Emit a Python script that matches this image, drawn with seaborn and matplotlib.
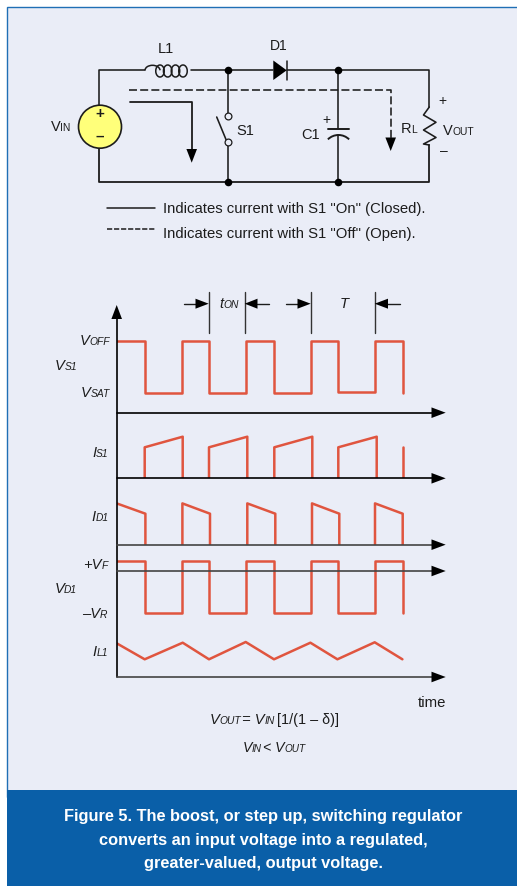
import matplotlib
matplotlib.use("Agg")
import matplotlib.pyplot as plt
from matplotlib.patches import Arc, Circle, Polygon, Rectangle
import pandas as pd
import seaborn as sns

# waveforms: time from the y axis, level above each baseline
vs1_t = [0, 28, 28, 65, 65, 92.3, 92.3, 129.3, 129.3, 157, 157, 194, 194, 221, 221, 258.3, 258.3, 286, 286]
vs1_v = [71.7, 71.7, 20, 20, 71.7, 71.7, 20, 20, 71.7, 71.7, 20, 20, 72, 72, 21, 21, 72, 72, 20]

is1_t = [28, 28, 66, 66, 92.3, 92.3, 130.6, 130.6, 157.6, 157.6, 195.6, 195.6, 221.6, 221.6, 260, 260, 286, 286]
is1_v = [0, 31, 41.6, 0, 0, 31, 41.6, 0, 0, 31, 41.6, 0, 0, 31, 41.6, 0, 0, 31]
is1_p = [1, 1, 1, 1, 2, 2, 2, 2, 3, 3, 3, 3, 4, 4, 4, 4, 5, 5]

id1_t = [0, 28.7, 28.7, 65.7, 65.7, 93.3, 93.3, 130.6, 130.6, 158.6, 158.6, 195.3, 195.3, 222.6, 222.6, 258.3, 258.3, 286, 286]
id1_v = [41.3, 31, 0, 0, 41.3, 31, 0, 0, 41.3, 31, 0, 0, 41.3, 31, 0, 0, 41.3, 31, 0]
id1_p = [1, 1, 1, 2, 2, 2, 2, 3, 3, 3, 3, 4, 4, 4, 4, 5, 5, 5, 5]

vd1_t = [0, 28.3, 28.3, 65, 65, 92.3, 92.3, 129.3, 129.3, 157, 157, 194, 194, 221, 221, 258.3, 258.3, 286, 286]
vd1_v = [9.7, 9.7, -41.7, -41.7, 9.7, 9.7, -41.7, -41.7, 9.7, 9.7, -41.7, -41.7, 10, 10, -41.7, -41.7, 10, 10, -41.7]

il1_t = [0, 28, 66, 92.3, 129, 157.3, 193.7, 220.7, 258, 285.7]
il1_v = [33.7, 17.7, 34.3, 17.7, 35, 17.7, 34.3, 17.7, 34.7, 17.7]

caption = ["Figure 5. The boost, or step up, switching regulator",
           "converts an input voltage into a regulated,",
           "greater-valued, output voltage."]
legend_labels = ['Indicates current with S1 "On" (Closed).',
                 'Indicates current with S1 "Off" (Open).']

W, H = 517, 886
RED = "#E0553F"
INK = "#1c1c1c"
PANEL = "#EAEDF7"
BLUE = "#0A5FA8"

sns.set_theme(style="white")
plt.rcParams["font.family"] = ["Liberation Sans", "DejaVu Sans"]

fig = plt.figure(figsize=(W / 100, H / 100), dpi=100, facecolor="white")

# background layer in picture pixels
bg = fig.add_axes([0, 0, 1, 1])
bg.set_xlim(0, W)
bg.set_ylim(H, 0)
bg.axis("off")
bg.add_patch(Rectangle((7, 6.5), 520, 790, fc=PANEL, ec="#1f6fb5", lw=1.0))
bg.add_patch(Rectangle((7, 790), 520, 100, fc=BLUE, ec="none"))


def panel(top, bottom, lo, hi):
    # one waveform strip, x runs from the y axis to the arrow tips
    ax = fig.add_axes([116.7 / W, 1 - bottom / H, 329 / W, (bottom - top) / H])
    ax.set_xlim(0, 329)
    ax.set_ylim(lo, hi)
    ax.autoscale(False)
    ax.axis("off")
    ax.patch.set_alpha(0)
    return ax


def trace(ax, t, v, units=None):
    df = pd.DataFrame({"t": t, "v": v, "p": units if units else [1] * len(t)})
    sns.lineplot(data=df, x="t", y="v", units="p", estimator=None, sort=False,
                 color=RED, lw=1.8, legend=False, ax=ax)
    ax.axis("off")


trace(panel(305, 412.7, 0, 107.7), vs1_t, vs1_v)
trace(panel(412.7, 478.3, 0, 65.6), is1_t, is1_v, is1_p)
trace(panel(478.3, 544.7, 0, 66.4), id1_t, id1_v, id1_p)
trace(panel(544.7, 625, -54, 26.3), vd1_t, vd1_v)
trace(panel(625, 677, 0, 52), il1_t, il1_v)

# diagram layer, also picture pixels
ax = fig.add_axes([0, 0, 1, 1])
ax.patch.set_alpha(0)
ax.set_xlim(0, W)
ax.set_ylim(H, 0)
ax.autoscale(False)
ax.axis("off")


def wire(xs, ys, lw=1.15, color=INK, **kw):
    sns.lineplot(x=xs, y=ys, sort=False, estimator=None, errorbar=None,
                 color=color, lw=lw, legend=False, ax=ax, **kw)


def head(tip, back, half=5.3):
    # filled arrow head from the back centre to the tip
    (x0, y0), (x1, y1) = back, tip
    if x0 == x1:
        pts = [(x1, y1), (x0 - half, y0), (x0 + half, y0)]
    else:
        pts = [(x1, y1), (x0, y0 - half), (x0, y0 + half)]
    ax.add_patch(Polygon(pts, fc="black", ec="none", zorder=5))


def sub(x, y, big, small, size=10.6, small_size=7.4, color=INK, style="italic"):
    # letter plus small subscript on the same baseline, as in the figure
    t = ax.text(x, y, big, fontsize=size, style=style, color=color, va="baseline", ha="left")
    r = fig.canvas.get_renderer()
    end = ax.transData.inverted().transform(t.get_window_extent(r).get_points())[1][0]
    s = ax.text(end - 0.3, y, small, fontsize=small_size, style=style, color=color, va="baseline", ha="left")
    end = ax.transData.inverted().transform(s.get_window_extent(r).get_points())[1][0]
    return end


# circuit wires
wire([99.3, 99.3, 145], [105, 70.3, 70.3])
wire([190.5, 273], [70.3, 70.3])
wire([287, 429.3, 429.3], [70.3, 70.3, 107])
wire([99.3, 99.3, 429.3, 429.3], [148, 181.7, 181.7, 145], lw=1.3)
wire([228, 228], [70.3, 112.5])
wire([228, 228], [145.5, 181.7])
wire([216.7, 226], [117, 139.5])
wire([338.3, 338.3], [70.3, 129.3])
wire([338.3, 338.3], [135, 181.7])
wire([328, 349], [129.3, 129.3], lw=1.4)
ax.add_patch(Arc((338.5, 150), 30, 30, theta1=225, theta2=315, color=INK, lw=1.4))

# load resistor
wire([429.3, 423.5, 436, 423.5, 436, 423.5, 429.3],
     [107, 115, 122.3, 130, 137.5, 144, 145])

# inductor
ax.add_patch(Arc((152.5, 70.3), 15, 10, theta1=180, theta2=360, color=INK, lw=1.1))
for cx in [160, 167.7, 175.5, 183]:
    ax.add_patch(Arc((cx, 71), 8.5, 12, color=INK, lw=1.1))

# source
ax.add_patch(Circle((100, 126.7), 21.5, fc="#FFFF7A", ec=INK, lw=1.2, zorder=3))
ax.text(100, 114, "+", fontsize=11, weight="bold", ha="center", va="center", color=INK, zorder=4)
ax.text(100, 137, "\u2013", fontsize=11, weight="bold", ha="center", va="center", color=INK, zorder=4)

# diode
ax.add_patch(Polygon([(273.3, 60.5), (286.7, 70.3), (273.3, 80)], fc="black", ec="none"))
wire([287, 287], [60.5, 80], lw=1.1)

# junction dots and switch contacts
sns.scatterplot(x=[228, 338.3, 228, 338.3], y=[70.3, 70.3, 181.7, 181.7], s=30, color="black",
                linewidth=0, legend=False, ax=ax, zorder=4)
sns.scatterplot(x=[228, 228], y=[116, 142], s=24, color=PANEL, edgecolor=INK,
                linewidth=0.9, legend=False, ax=ax, zorder=4)

# current paths
wire([130, 191.7, 191.7], [101.7, 101.7, 150], lw=1.3)
head((191.7, 162.7), (191.7, 149))
wire([129, 390.7, 390.7], [90.3, 90.3, 140], lw=1.15, linestyle=(0, (5, 2)))
head((390.7, 151), (390.7, 137.5))

# legend
wire([107, 155], [207.7, 207.7], lw=1.1)
wire([107, 155], [228.7, 228.7], lw=1.1, linestyle=(0, (3.4, 1.2)))
ax.text(163, 212.5, legend_labels[0], fontsize=10.7, color=INK, va="baseline")
ax.text(163, 237.5, legend_labels[1], fontsize=10.7, color=INK, va="baseline")

# circuit labels
ax.text(166, 53, "L1", fontsize=10.5, color=INK, ha="center", va="baseline")
ax.text(278.7, 50, "D1", fontsize=10, color=INK, ha="center", va="baseline")
sub(51, 130.7, "V", "IN", size=10.5, small_size=7.4, style="normal")
ax.text(236.7, 135, "S1", fontsize=10.5, color=INK, va="baseline")
ax.text(301.5, 139, "C1", fontsize=10.5, color=INK, va="baseline")
ax.text(326.7, 120, "+", fontsize=10, color=INK, ha="center", va="center")
sub(401, 132.7, "R", "L", size=10.5, small_size=7.4, style="normal")
sub(443, 135, "V", "OUT", size=10.5, small_size=7.4, style="normal")
ax.text(442.7, 101, "+", fontsize=10, color=INK, ha="center", va="center")
ax.text(444, 151.5, "\u2013", fontsize=10, color=INK, ha="center", va="center")

# waveform axes
wire([116.7, 116.7], [316, 677], lw=1.2, color="black")
head((116.7, 305), (116.7, 319))
for y, c in [(412.7, "black"), (478.3, "black"), (544.7, "#444444"), (571, "#444444"), (677, "#444444")]:
    wire([116.7, 436], [y, y], lw=1.2, color=c)
    head((445.7, y), (431.5, y))

# timing marks
for x in [208.7, 244.7, 310.7, 374.7]:
    wire([x, x], [291.7, 333.3], lw=1.0, color="#333333")
wire([184, 196], [303.7, 303.7], lw=1.0)
head((208.7, 303.7), (195.5, 303.7), half=5)
wire([257, 269], [303.7, 303.7], lw=1.0)
head((244.7, 303.7), (257.5, 303.7), half=5)
wire([286, 298], [303.7, 303.7], lw=1.0)
head((310.7, 303.7), (297.5, 303.7), half=5)
wire([387, 400], [303.7, 303.7], lw=1.0)
head((374.7, 303.7), (388, 303.7), half=5)
sub(219.3, 308.3, "t", "ON")
ax.text(340, 308, "T", fontsize=10.6, style="italic", color=INK, va="baseline")

# waveform labels
sub(80, 345, "V", "OFF")
sub(55, 370, "V", "S1")
sub(80.7, 396.7, "V", "SAT")
sub(92.3, 456.7, "I", "S1")
sub(91.7, 521, "I", "D1")
sub(83.3, 569, "+V", "F")
sub(54.3, 592.7, "V", "D1")
sub(81.7, 617.7, "\u2013V", "R")
sub(92.7, 655.7, "I", "L1")
ax.text(445.7, 706.7, "time", fontsize=10.7, color=INK, ha="right", va="baseline")

# formulas
end = sub(210, 724, "V", "OUT")
end = sub(end + 1, 724, "= V", "IN")
ax.text(end + 2, 724, "[1/(1 \u2013 \u03b4)]", fontsize=10.4, color=INK, va="baseline")
end = sub(242.3, 751.7, "V", "IN", size=10.2, small_size=7.2)
end = sub(end + 2, 751.7, "< V", "OUT", size=10.2, small_size=7.2)

# caption
for y, line in zip([820.7, 845, 868], caption):
    ax.text(263, y, line, fontsize=11.8, weight="bold", color="white", ha="center", va="baseline")

fig.savefig("out.png", dpi=100, facecolor="white")
